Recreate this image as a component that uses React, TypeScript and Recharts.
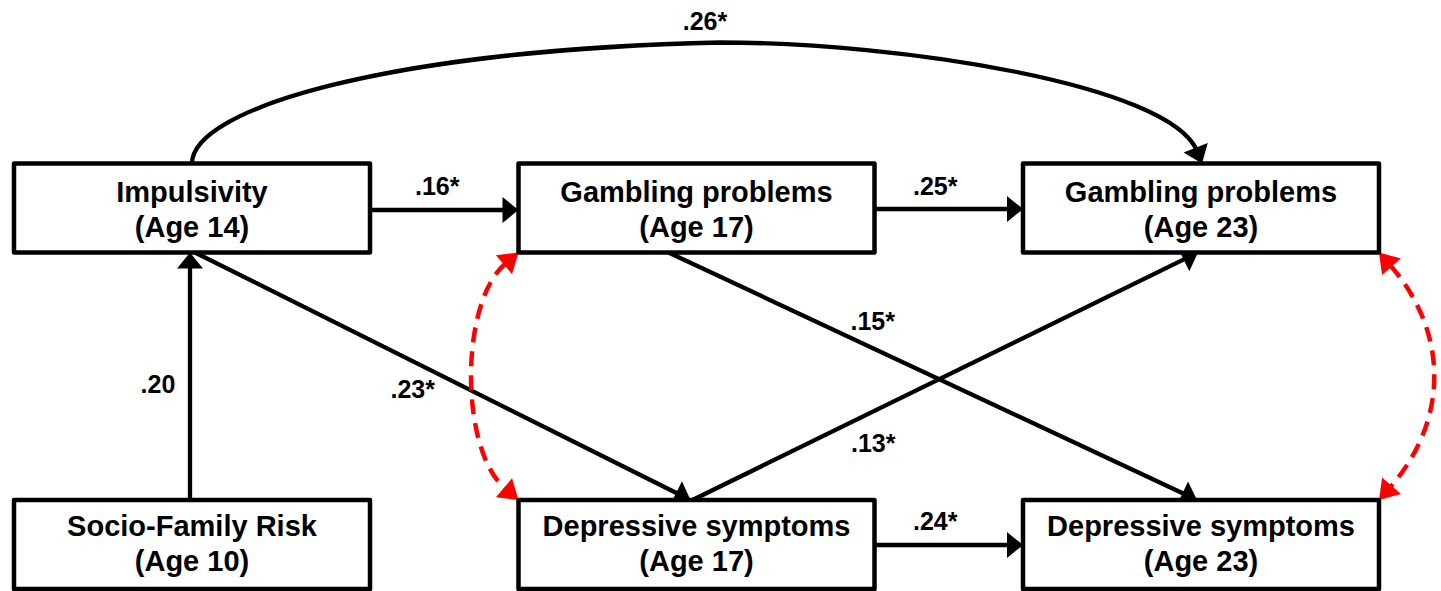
import React from 'react';
import { ScatterChart, Scatter, XAxis, YAxis, ReferenceLine } from 'recharts';

// ---- Data ----
const nodeTitles = ['Impulsivity', 'Gambling problems', 'Gambling problems', 'Socio-Family Risk', 'Depressive symptoms', 'Depressive symptoms'];
const nodeAges = ['(Age 14)', '(Age 17)', '(Age 23)', '(Age 10)', '(Age 17)', '(Age 23)'];
const nodeCols = [0, 1, 2, 0, 1, 2];
const nodeRows = [0, 0, 0, 1, 1, 1];

const pathFrom = [0, 1, 4, 3, 0, 1, 4, 0];
const pathTo = [1, 2, 5, 0, 4, 5, 2, 2];
const pathCoefs = ['.16*', '.25*', '.24*', '.20', '.23*', '.15*', '.13*', '.26*'];

const covFrom = [1, 2];
const covTo = [4, 5];

// ---- Layout / style ----
const W = 1441;
const H = 591;
const X0 = 192;
const DX = 504.5;
const Y0 = 208;
const DY = 336.5;
const X_DOMAIN: [number, number] = [-X0 / DX, (W - X0) / DX];
const Y_DOMAIN: [number, number] = [-Y0 / DY, (H - Y0) / DY];

const HALF_W = 178;
const HALF_H = 44.5;
const FONT = '"Liberation Sans", Arial, Helvetica, sans-serif';

type Side = 'left' | 'right' | 'top' | 'bottom';
interface EdgeStyle { fs: Side; fo: number; ts: Side; to: number; lx: number; ly: number; curve?: boolean }

const edgeStyles: EdgeStyle[] = [
  { fs: 'right', fo: 2, ts: 'left', to: 2, lx: -7, ly: -15 },
  { fs: 'right', fo: 1, ts: 'left', to: 1, lx: -13.5, ly: -14 },
  { fs: 'right', fo: 0.5, ts: 'left', to: 0.5, lx: -13.5, ly: -15 },
  { fs: 'top', fo: -2, ts: 'bottom', to: -2, lx: -32, ly: 17 },
  { fs: 'bottom', fo: 3, ts: 'top', to: -6, lx: -30, ly: 22 },
  { fs: 'bottom', fo: -28, ts: 'top', to: -4, lx: -60, ly: -46 },
  { fs: 'top', fo: -4, ts: 'bottom', to: -3, lx: -72, ly: 76 },
  { fs: 'top', fo: 0, ts: 'top', to: 1, lx: -15, ly: -13, curve: true },
];

const covStyles = [
  { dir: -1, d: 59, e: 50 },
  { dir: 1, d: 70, e: 80 },
];

const nodes = nodeTitles.map((t, i) => ({ col: nodeCols[i], row: nodeRows[i], title: t, age: nodeAges[i] }));

const anchor = (cx: number, cy: number, side: Side, off: number): [number, number] => {
  switch (side) {
    case 'left': return [cx - HALF_W, cy + off];
    case 'right': return [cx + HALF_W, cy + off];
    case 'top': return [cx + off, cy - HALF_H];
    default: return [cx + off, cy + HALF_H];
  }
};

const norm = (x: number, y: number): [number, number] => {
  const l = Math.hypot(x, y) || 1;
  return [x / l, y / l];
};

const arrowHead = (tx: number, ty: number, ux: number, uy: number, fill: string, len: number, hw: number, key?: string) => {
  const bx = tx - len * ux;
  const by = ty - len * uy;
  const nx = -uy;
  const ny = ux;
  const pts = `${tx},${ty} ${bx + hw * nx},${by + hw * ny} ${bx - hw * nx},${by - hw * ny}`;
  return <polygon key={key} points={pts} fill={fill} stroke="none" />;
};

const BL = 16;
const BHW = 13;
const RL = 19;
const RHW = 12.5;

const makeEdgeShape = (idx: number) => (p: any) => {
  const st = edgeStyles[idx];
  const [sx, sy] = anchor(p.x1, p.y1, st.fs, st.fo);
  const [ex, ey] = anchor(p.x2, p.y2, st.ts, st.to);
  const label = pathCoefs[idx];
  if (st.curve) {
    const px = sx + 528;
    const py = sy - 121;
    const [ux, uy] = norm(28, 70);
    const e2x = ex - (BL - 2) * ux;
    const e2y = ey - (BL - 2) * uy;
    const d = `M${sx},${sy} C${sx},${sy - 53.5} ${sx + 188},${py + 8} ${px},${py} C${px + 180},${py} ${e2x - 28},${e2y - 66} ${e2x},${e2y}`;
    return (
      <g>
        <path d={d} fill="none" stroke="#000" strokeWidth={4.3} />
        {arrowHead(ex, ey, ux, uy, '#000', BL + 1, BHW)}
        <text x={px + st.lx} y={py + st.ly} textAnchor="middle" fontFamily={FONT} fontWeight="bold" fontSize={25} fill="#000">{label}</text>
      </g>
    );
  }
  const [ux, uy] = norm(ex - sx, ey - sy);
  const lx2 = ex - (BL - 2) * ux;
  const ly2 = ey - (BL - 2) * uy;
  const mx = (sx + ex) / 2;
  const my = (sy + ey) / 2;
  return (
    <g>
      <line x1={sx} y1={sy} x2={lx2} y2={ly2} stroke="#000" strokeWidth={4.3} />
      {arrowHead(ex, ey, ux, uy, '#000', BL, BHW)}
      <text x={mx + st.lx} y={my + st.ly} textAnchor="middle" fontFamily={FONT} fontWeight="bold" fontSize={25} fill="#000">{label}</text>
    </g>
  );
};

const makeCovShape = (idx: number) => (p: any) => {
  const st = covStyles[idx];
  const sx = p.x1 + st.dir * HALF_W;
  const sy = p.y1 + HALF_H;
  const ex = p.x2 + st.dir * HALF_W;
  const ey = p.y2 - HALF_H;
  const [u1x, u1y] = norm(st.dir * st.d, st.e);
  const [u2x, u2y] = norm(-st.dir * st.d, st.e);
  const s2x = sx + (RL - 2) * u1x;
  const s2y = sy + (RL - 2) * u1y;
  const e2x = ex - (RL - 2) * u2x;
  const e2y = ey - (RL - 2) * u2y;
  const d = `M${s2x},${s2y} C${sx + st.dir * st.d},${sy + st.e} ${ex + st.dir * st.d},${ey - st.e} ${e2x},${e2y}`;
  return (
    <g>
      <path d={d} fill="none" stroke="#FF0000" strokeWidth={4.5} strokeDasharray="15 9" />
      {arrowHead(sx, sy, -u1x, -u1y, '#FF0000', RL, RHW, 'a')}
      {arrowHead(ex, ey, u2x, u2y, '#FF0000', RL, RHW, 'b')}
    </g>
  );
};

const NodeShape = (props: any) => {
  const { cx, cy, payload } = props;
  const offs = payload.row === 0 ? [-6, 29] : [-8.5, 26.5];
  return (
    <g>
      <rect x={cx - HALF_W} y={cy - HALF_H} width={2 * HALF_W} height={2 * HALF_H} fill="#fff" stroke="#000" strokeWidth={4.5} strokeLinejoin="round" />
      <text x={cx} y={cy + offs[0]} textAnchor="middle" fontFamily={FONT} fontWeight="bold" fontSize={29} fill="#000">{payload.title}</text>
      <text x={cx} y={cy + offs[1]} textAnchor="middle" fontFamily={FONT} fontWeight="bold" fontSize={29} fill="#000">{payload.age}</text>
    </g>
  );
};

export default function App() {
  return (
    <div style={{ position: 'absolute', left: 0, top: 0, width: W, height: H, background: '#fff' }}>
      <ScatterChart width={W} height={H} margin={{ top: 0, right: 0, bottom: 0, left: 0 }}>
        <XAxis type="number" dataKey="col" domain={X_DOMAIN} allowDataOverflow hide />
        <YAxis type="number" dataKey="row" domain={Y_DOMAIN} allowDataOverflow reversed hide />
        {pathFrom.map((f, i) => (
          <ReferenceLine
            key={`p${i}`}
            segment={[{ x: nodeCols[f], y: nodeRows[f] }, { x: nodeCols[pathTo[i]], y: nodeRows[pathTo[i]] }]}
            ifOverflow="visible"
            shape={makeEdgeShape(i)}
          />
        ))}
        {covFrom.map((f, i) => (
          <ReferenceLine
            key={`c${i}`}
            segment={[{ x: nodeCols[f], y: nodeRows[f] }, { x: nodeCols[covTo[i]], y: nodeRows[covTo[i]] }]}
            ifOverflow="visible"
            shape={makeCovShape(i)}
          />
        ))}
        <Scatter data={nodes} shape={NodeShape} isAnimationActive={false} />
      </ScatterChart>
    </div>
  );
}
